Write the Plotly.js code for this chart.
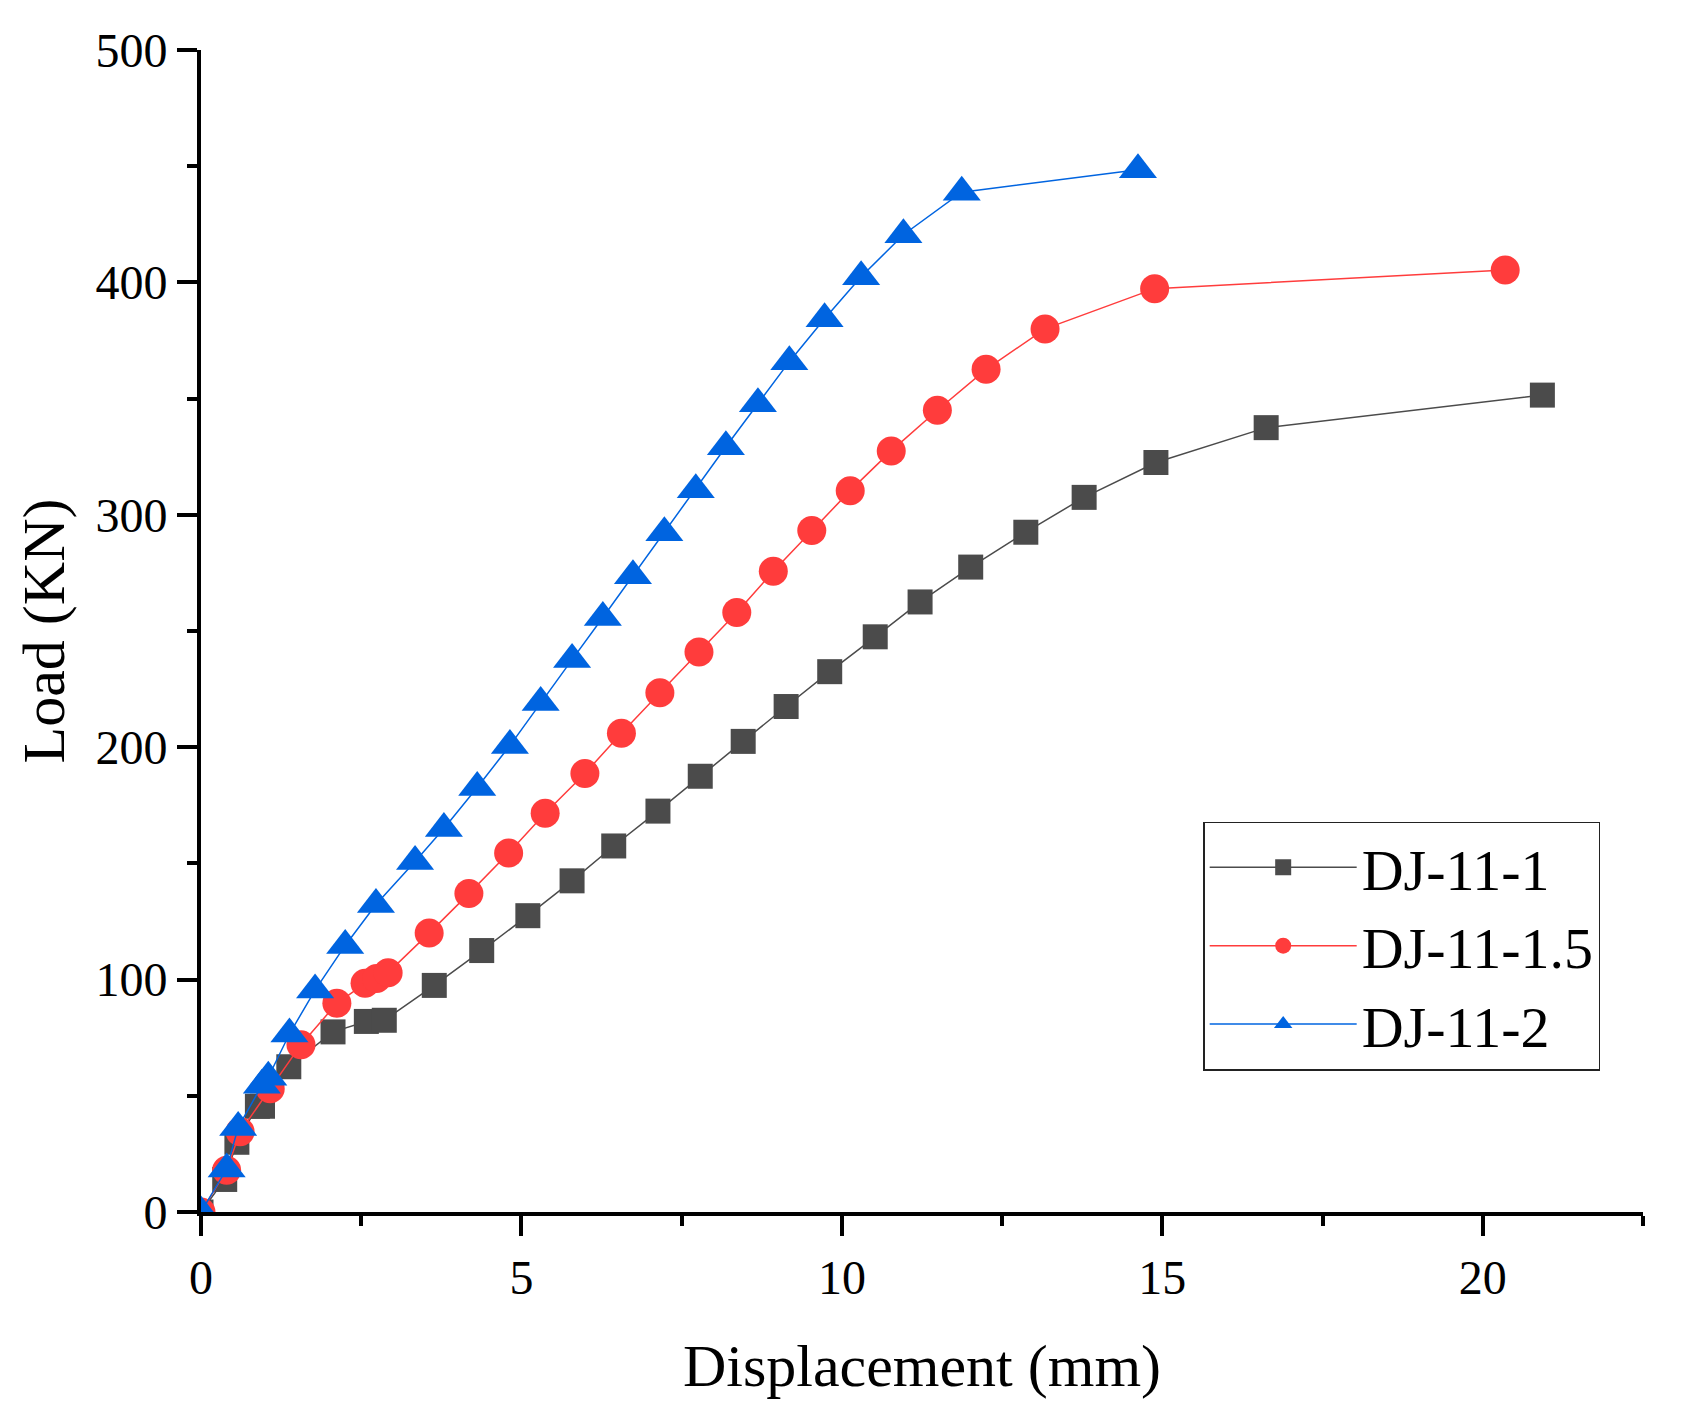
<!DOCTYPE html>
<html>
<head>
<meta charset="utf-8">
<script src="https://cdn.plot.ly/plotly-3.0.1.min.js"></script>
<style>
html,body{margin:0;padding:0;background:#fff;}
#chart{width:1685px;height:1418px;}
</style>
</head>
<body>
<div id="chart"></div>
<script>
// DJ-11-1 (black squares)
var dispA = [0, 0.37, 0.56, 0.88, 0.96, 1.37, 2.06, 2.58, 2.86, 3.64, 4.38, 5.10, 5.79, 6.44, 7.13, 7.79, 8.46, 9.13, 9.81, 10.52, 11.22, 12.01, 12.87, 13.78, 14.90, 16.62, 20.93];
var loadA = [0, 14, 30, 45.5, 45.5, 62.5, 77.5, 82, 82.5, 97.5, 112.5, 127.5, 142.5, 157.5, 172.5, 187.5, 202.5, 217.5, 232.5, 247.5, 262.5, 277.5, 292.5, 307.5, 322.5, 337.5, 351.5];
// DJ-11-1.5 (red circles)
var dispB = [0, 0.40, 0.61, 1.08, 1.56, 2.12, 2.56, 2.74, 2.92, 3.56, 4.18, 4.80, 5.37, 5.99, 6.56, 7.16, 7.77, 8.36, 8.93, 9.53, 10.13, 10.77, 11.49, 12.25, 13.17, 14.88, 20.35];
var loadB = [0, 18, 34.5, 53, 72, 89.8, 98.4, 100.5, 103, 120, 137, 154.5, 171.6, 188.7, 206, 223.4, 241, 258, 275.7, 293.2, 310.4, 327.5, 345, 362.6, 380, 397.3, 405.3];
// DJ-11-2 (blue triangles)
var dispC = [0, 0.40, 0.58, 0.95, 1.05, 1.38, 1.78, 2.25, 2.73, 3.34, 3.79, 4.31, 4.82, 5.30, 5.79, 6.27, 6.74, 7.23, 7.72, 8.19, 8.69, 9.18, 9.73, 10.30, 10.96, 11.87, 14.62];
var loadC = [0, 18.5, 36.4, 54.5, 58, 76.6, 95.5, 114.7, 132.3, 150.8, 165, 182.7, 200.7, 219.2, 237.7, 255.8, 273.8, 292.3, 310.8, 329.3, 347.8, 365.9, 384.4, 402.4, 420.5, 438.8, 448.5];

var seriesNames = ['DJ-11-1', 'DJ-11-1.5', 'DJ-11-2'];
var xTitle = 'Displacement (mm)';
var yTitle = 'Load (KN)';

var FONT = '"Liberation Serif", "Times New Roman", serif';

var traces = [
  {x: dispA, y: loadA, name: seriesNames[0], type: 'scatter', mode: 'lines+markers',
   line: {color: '#4b4b4b', width: 1.5},
   marker: {symbol: 'square', size: 25, color: '#4b4b4b'}},
  {x: dispB, y: loadB, name: seriesNames[1], type: 'scatter', mode: 'lines+markers',
   line: {color: '#ff3c3c', width: 1.5},
   marker: {symbol: 'circle', size: 29, color: '#ff3c3c'}},
  {x: dispC, y: loadC, name: seriesNames[2], type: 'scatter', mode: 'lines+markers',
   line: {color: '#0064e0', width: 1.5},
   marker: {symbol: 'triangle-up', size: 33, color: '#0064e0'}}
];

var layout = {
  width: 1685, height: 1418,
  paper_bgcolor: '#ffffff', plot_bgcolor: '#ffffff',
  margin: {l: 201, r: 42, t: 50, b: 206},
  font: {family: FONT, color: '#000', size: 48},
  showlegend: true,
  legend: {
    x: 0.695, y: 0.336, xanchor: 'left', yanchor: 'top',
    bgcolor: '#ffffff', bordercolor: '#222', borderwidth: 1.5,
    font: {family: FONT, size: 58, color: '#000'},
    itemwidth: 147, tracegroupgap: 0
  },
  xaxis: {
    range: [0, 22.5], autorange: false,
    showgrid: false, zeroline: false,
    showline: true, linecolor: '#000', linewidth: 4,
    ticks: 'outside', ticklen: 20, tickwidth: 4, tickcolor: '#000',
    tick0: 0, dtick: 5,
    minor: {ticks: 'outside', ticklen: 10, tickwidth: 4, tickcolor: '#000', dtick: 2.5, showgrid: false},
    tickfont: {family: FONT, size: 48, color: '#000'},
    title: {text: xTitle, font: {family: FONT, size: 60, color: '#000'}, standoff: 42},
    mirror: false
  },
  yaxis: {
    range: [0, 500], autorange: false,
    showgrid: false, zeroline: false,
    showline: true, linecolor: '#000', linewidth: 4,
    ticks: 'outside', ticklen: 20, tickwidth: 4, tickcolor: '#000',
    tick0: 0, dtick: 100,
    minor: {ticks: 'outside', ticklen: 10, tickwidth: 4, tickcolor: '#000', dtick: 50, showgrid: false},
    tickfont: {family: FONT, size: 48, color: '#000'},
    title: {text: yTitle, font: {family: FONT, size: 60, color: '#000'}, standoff: 12},
    mirror: false
  }
};

Plotly.newPlot('chart', traces, layout, {displayModeBar: false, staticPlot: true});
</script>
</body>
</html>
